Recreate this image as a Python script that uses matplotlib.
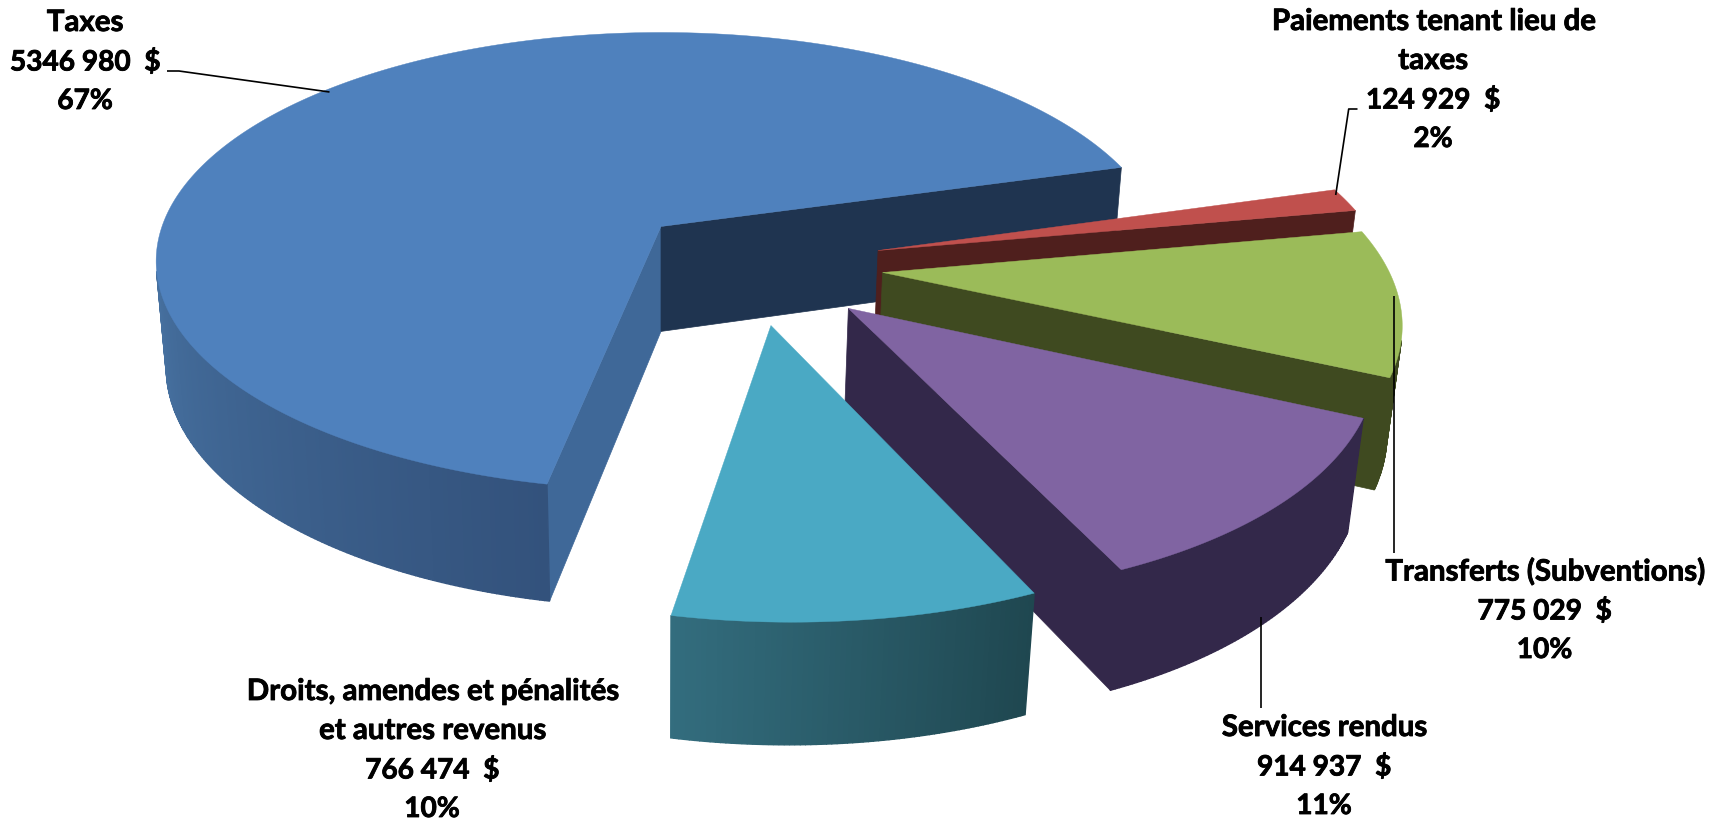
"""Exploded 3D pie of revenue sources, drawn as projected polygons."""
import matplotlib
matplotlib.use("Agg")  # headless, no display needed
import matplotlib.pyplot as plt
import numpy as np
from matplotlib.colors import to_rgb
from matplotlib.patches import Polygon
import matplotlib.patheffects as pe

# clockwise from the top right edge of the big slice
names = ["Paiements tenant lieu de\ntaxes", "Transferts (Subventions)", "Services rendus",
         "Droits, amendes et pénalités\net autres revenus", "Taxes"]
values = [124929, 775029, 914937, 766474, 5346980]
amounts = ["124 929  $", "775 029  $", "914 937  $", "766 474  $", "5346 980  $"]
shares = ["2%", "10%", "11%", "10%", "67%"]

# camera: screen = centre + (A x, -B y + C z) / (1 + K y + M z)
CX, CY = 661.0, 226.5
A, B, C = 499.0, 223.5, 107.0
K, M = 0.152, 0.02
START_ANGLE = 16.0

# world offset of each slice apex (hand dragged in the original)
shift_x = [0.428, 0.4306, 0.3557, 0.2064, 0.0]
shift_y = [-0.1057, -0.1996, -0.347, -0.415, 0.0]
radius = [0.995, 0.985, 0.98, 0.98, 1.0]

top_colors = ["#c0504d", "#9bbb59", "#8064a2", "#4aa9c4", "#4f81bd"]
end_wall_colors = ["#4f1f1d", "#3f4a20", "#33284a", "#1f4750", "#1f3450"]
start_wall_colors = ["#4f1f1d", "#3f4a20", "#33284a", "#1f4750", "#3f6898"]
arc_from = ["#4f1f1d", "#3f4a20", "#33284a", "#1f4750", "#33527c"]
arc_to = ["#4f1f1d", "#3f4a20", "#33284a", "#336d7e", "#46709f"]
draw_order = [4, 0, 1, 2, 3]

label_x = [1433, 1544.5, 1324, 432, 85]
label_y = [22, 572, 728, 692, 23]
LINE_STEP = 39.0

leaders = [
    ([167, 179, 329.5], [71, 71, 92]),
    ([1357.5, 1348.7, 1335.7], [109, 109, 195]),
    ([1394, 1394], [296, 553]),
    ([1261, 1261], [617, 708]),
]


def project(x, y, z):
    w = 1 + K * y + M * z
    return CX + A * x / w, CY - (B * y - C * z) / w


def area(pts):
    xs, ys = np.array(pts).T
    return np.sum(xs * np.roll(ys, -1) - np.roll(xs, -1) * ys)


def mix(c1, c2, t):
    return tuple((1 - t) * a + t * b for a, b in zip(to_rgb(c1), to_rgb(c2)))


def draw_slice(ax, i, t0, t1):
    ox, oy = shift_x[i], shift_y[i]
    angles = np.radians(np.arange(t0, t1, -0.5).tolist() + [t1])
    xs = ox + radius[i] * np.cos(angles)
    ys = oy + radius[i] * np.sin(angles)

    top = np.column_stack(project(xs, ys, 0))
    bot = np.column_stack(project(xs, ys, 1))
    apex_top = project(ox, oy, 0)
    apex_bot = project(ox, oy, 1)

    # radial walls, only the ones turned to the viewer
    start_wall = [apex_top, top[0], bot[0], apex_bot]
    end_wall = [apex_top, top[-1], bot[-1], apex_bot]
    if area(start_wall) < 0:
        ax.add_patch(Polygon(start_wall, fc=start_wall_colors[i], ec=start_wall_colors[i], lw=0.5))
    if area(end_wall) > 0:
        ax.add_patch(Polygon(end_wall, fc=end_wall_colors[i], ec=end_wall_colors[i], lw=0.5))

    # outer wall as thin quads for the shading
    quads = []
    for k in range(len(angles) - 1):
        q = [top[k], top[k + 1], bot[k + 1], bot[k]]
        if area(q) < 0:
            quads.append(q)
    for k, q in enumerate(quads):
        col = mix(arc_from[i], arc_to[i], k / max(len(quads) - 1, 1))
        ax.add_patch(Polygon(q, fc=col, ec=col, lw=1.0))

    ax.add_patch(Polygon(np.vstack([[apex_top], top]), fc=top_colors[i], ec=top_colors[i], lw=0.3))


plt.rcParams["font.family"] = ["Lato", "DejaVu Sans"]

fig = plt.figure(figsize=(17.25, 8.21), dpi=100)
ax = fig.add_axes([0, 0, 1, 1])
ax.set_xlim(0, 1725)
ax.set_ylim(821, 0)
ax.axis("off")

edges = START_ANGLE - np.concatenate([[0], np.cumsum(values)]) / sum(values) * 360
for i in draw_order:
    draw_slice(ax, i, edges[i], edges[i + 1])

for xs, ys in leaders:
    ax.plot(xs, ys, color="black", lw=1.2, solid_capstyle="butt")

for i in range(len(names)):
    name_lines = names[i].split("\n")
    lines = name_lines + [amounts[i], shares[i]]
    for n, line in enumerate(lines):
        # Lato digits run a bit wider than the rest
        size = 21.2 if n < len(name_lines) else 20.2
        t = ax.text(label_x[i], label_y[i] + n * LINE_STEP, line, ha="center", va="center",
                    fontsize=size, fontweight="bold", color="black")
        t.set_path_effects([pe.withStroke(linewidth=0.6, foreground="black")])

fig.savefig("out.png", dpi=100)
